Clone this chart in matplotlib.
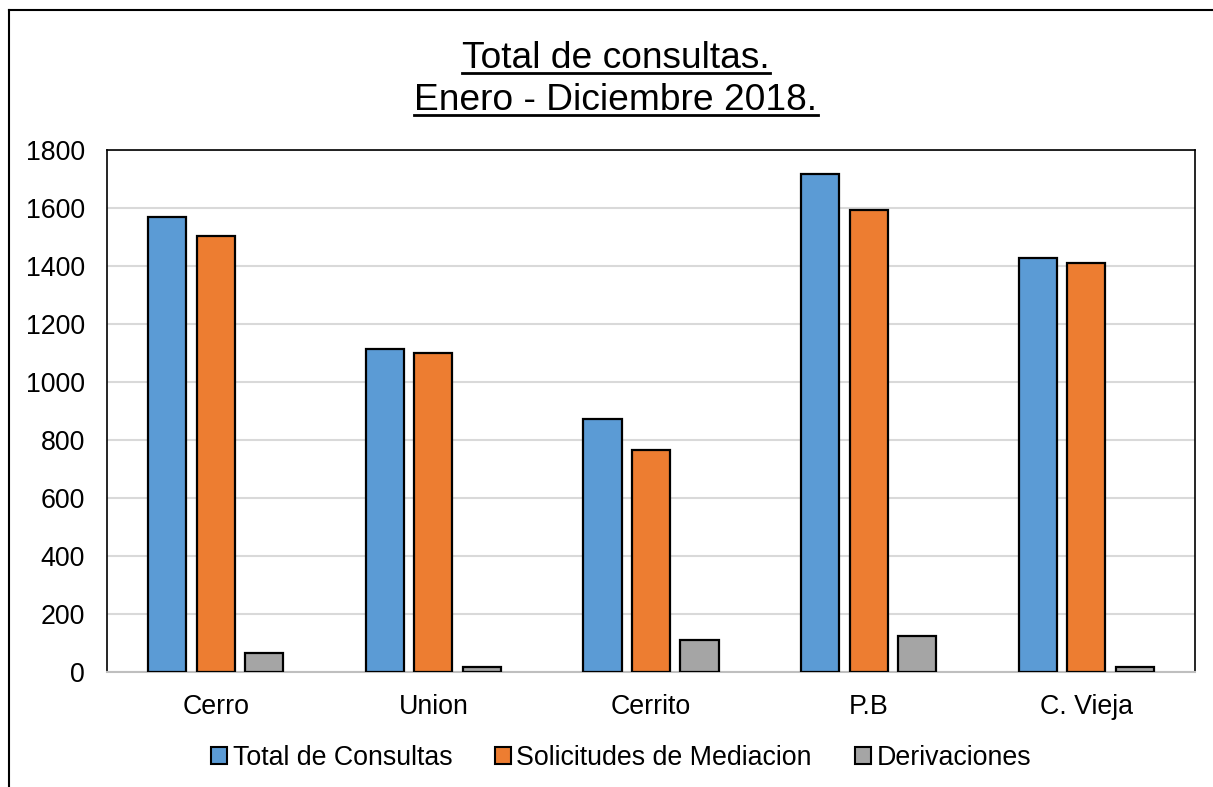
import matplotlib.pyplot as plt
import numpy as np
from matplotlib.lines import Line2D

# Data
categories = ['Cerro', 'Union', 'Cerrito', 'P.B', 'C. Vieja']
total_consultas = [1568, 1115, 874, 1716, 1428]
solicitudes = [1503, 1101, 766, 1593, 1409]
derivaciones = [66, 16, 110, 125, 18]
series_names = ['Total de Consultas', 'Solicitudes de Mediacion', 'Derivaciones']
colors = ['#5B9BD5', '#ED7D31', '#A5A5A5']

plt.rcParams['font.family'] = ['Liberation Sans', 'DejaVu Sans']

W, H = 1213, 787
fig = plt.figure(figsize=(W / 100, H / 100), dpi=100)
ax = fig.add_axes([107 / W, 1 - 672 / H, (1195 - 107) / W, (672 - 150) / H])

x = np.arange(len(categories))
width = 0.175
step = 0.223
for i, (vals, name) in enumerate(zip([total_consultas, solicitudes, derivaciones], series_names)):
    ax.bar(x + (i - 1) * step, vals, width, color=colors[i], edgecolor='black', linewidth=1.6,
           label=name, zorder=3)

ax.set_xlim(-0.5, len(categories) - 0.5)
ax.set_ylim(0, 1800)
ax.set_yticks(np.arange(0, 1801, 200))
ax.set_xticks(x)
ax.set_xticklabels(categories)
ax.tick_params(axis='both', length=0, labelsize=19.3, colors='black')
ax.tick_params(axis='x', pad=16)
ax.tick_params(axis='y', pad=16)
ax.grid(axis='y', color='#d9d9d9', linewidth=1.5, zorder=0)
for s in ['top', 'right', 'left']:
    ax.spines[s].set_color('black')
    ax.spines[s].set_linewidth(1.2)
ax.spines['bottom'].set_color('#bfbfbf')
ax.spines['bottom'].set_linewidth(1.5)

# Title (underlined)
tx = 616 / W
t1 = fig.text(tx, 1 - 68 / H, 'Total de consultas.', ha='center', va='baseline', fontsize=26.7)
t2 = fig.text(tx, 1 - 110 / H, 'Enero - Diciembre 2018.', ha='center', va='baseline', fontsize=26.7)
fig.canvas.draw()
r = fig.canvas.get_renderer()
for t, yline in [(t1, 73), (t2, 115)]:
    bb = t.get_window_extent(r)
    fig.add_artist(Line2D([bb.x0 / W, bb.x1 / W], [1 - yline / H] * 2, color='black', lw=2))

# Legend at bottom
handles = [plt.Rectangle((0, 0), 1, 1, facecolor=c, edgecolor='black', linewidth=1.5) for c in colors]
fig.legend(handles, series_names, loc='center', bbox_to_anchor=(621 / W, 1 - 758 / H), ncol=3,
           frameon=False, fontsize=19.3, handlelength=0.6, handleheight=0.6, handletextpad=0.2,
           columnspacing=1.6)

# Outer chart border
fig.add_artist(Line2D([9 / W, 9 / W], [0, 1 - 10 / H], color='black', lw=1.5))
fig.add_artist(Line2D([9 / W, 1], [1 - 10 / H] * 2, color='black', lw=1.5))

fig.savefig('out.png', dpi=100)
